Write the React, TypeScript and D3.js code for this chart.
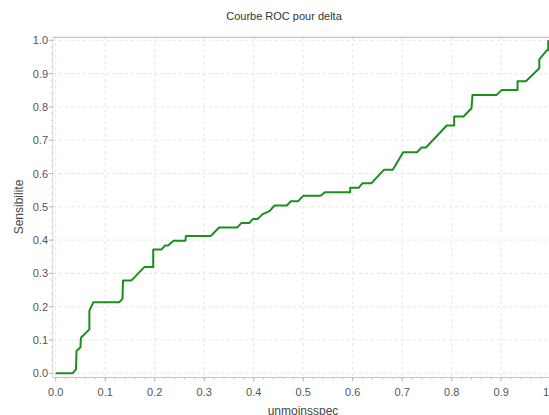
import * as d3 from 'd3'
import React from 'react'

// ROC curve points
const unmoinsspec = [
  0, 0.034, 0.041, 0.042, 0.05, 0.051, 0.068, 0.068, 0.076, 0.128, 0.135, 0.136,
  0.153, 0.179, 0.197, 0.197, 0.214, 0.221, 0.227, 0.238, 0.262, 0.263, 0.313,
  0.33, 0.367, 0.375, 0.391, 0.398, 0.408, 0.418, 0.432, 0.442, 0.467, 0.475,
  0.49, 0.5, 0.535, 0.544, 0.595, 0.595, 0.612, 0.62, 0.638, 0.663, 0.681, 0.702,
  0.73, 0.739, 0.748, 0.79, 0.805, 0.805, 0.824, 0.84, 0.842, 0.891, 0.901, 0.933,
  0.933, 0.95, 0.977, 0.977, 0.992, 0.995, 0.995,
]
const sensibilite = [
  0, 0, 0.012, 0.067, 0.078, 0.107, 0.132, 0.188, 0.213, 0.213, 0.224, 0.279,
  0.279, 0.319, 0.319, 0.372, 0.372, 0.384, 0.384, 0.398, 0.398, 0.412, 0.412,
  0.438, 0.438, 0.451, 0.451, 0.463, 0.463, 0.478, 0.487, 0.504, 0.504, 0.517,
  0.517, 0.533, 0.533, 0.544, 0.544, 0.557, 0.557, 0.571, 0.571, 0.611, 0.611,
  0.664, 0.664, 0.678, 0.678, 0.744, 0.744, 0.771, 0.771, 0.796, 0.836, 0.836,
  0.851, 0.851, 0.877, 0.877, 0.916, 0.943, 0.97, 0.97, 1.0,
]
const tickValues = [0, 0.1, 0.2, 0.3, 0.4, 0.5, 0.6, 0.7, 0.8, 0.9, 1.0]
const title = 'Courbe ROC pour delta'
const xLabel = 'unmoinsspec'
const yLabel = 'Sensibilite'

const W = 549
const H = 415

const App = () => {
  const x = d3.scaleLinear().domain([0, 1]).range([55.7, 550.7])
  const y = d3.scaleLinear().domain([0, 1]).range([373.3, 40.3])

  const left = x(-0.006)
  const right = x(1.006)
  const top = y(1.009)
  const bottom = y(-0.0125)

  const minor = d3.range(0, 51).map(i => i / 50)

  const line = d3.line<number>()
    .x((d, i) => x(unmoinsspec[i]))
    .y(d => y(d))

  const font = '"Liberation Sans", Arial, sans-serif'

  return (
    <svg width={W} height={H} style={{ position: 'absolute', left: 0, top: 0, background: '#fff' }}>
      {/* grid */}
      {tickValues.map(t => (
        <line key={'gx' + t} x1={x(t)} x2={x(t)} y1={top} y2={bottom}
          stroke="#e4e4e4" strokeDasharray="3,3" />
      ))}
      {tickValues.map(t => (
        <line key={'gy' + t} x1={left} x2={right} y1={y(t)} y2={y(t)}
          stroke="#e4e4e4" strokeDasharray="3,3" />
      ))}

      {/* frame */}
      <line x1={left} x2={right} y1={top} y2={top} stroke="#b4b4b4" />
      <line x1={left} x2={left} y1={top} y2={bottom} stroke="#d8d8d8" />
      <line x1={left} x2={right} y1={bottom} y2={bottom} stroke="#c4c4c4" />

      {/* left axis ticks */}
      {minor.map(t => (
        <line key={'ym' + t} x1={left - 2} x2={left} y1={y(t)} y2={y(t)} stroke="#d0d0d0" />
      ))}
      {tickValues.map(t => (
        <g key={'yt' + t}>
          <line x1={left - 4} x2={left} y1={y(t)} y2={y(t)} stroke="#b8b8b8" />
          <text x={48} y={y(t) + 4} textAnchor="end" fontFamily={font} fontSize={11} fill="#555">
            {d3.format('.1f')(t)}
          </text>
        </g>
      ))}

      {/* bottom axis ticks */}
      {minor.map(t => (
        <line key={'xm' + t} x1={x(t)} x2={x(t)} y1={bottom} y2={bottom + 2} stroke="#c4c4c4" />
      ))}
      {tickValues.map(t => (
        <g key={'xt' + t}>
          <line x1={x(t)} x2={x(t)} y1={bottom} y2={bottom + 4} stroke="#b8b8b8" />
          <text x={x(t)} y={396} textAnchor="middle" fontFamily={font} fontSize={11} fill="#555">
            {d3.format('.1f')(t)}
          </text>
        </g>
      ))}

      {/* ROC curve */}
      <path d={line(sensibilite) || ''} fill="none" stroke="#1a8f1a" strokeWidth={2}
        strokeLinejoin="round" />

      {/* labels */}
      <text x={284} y={20} textAnchor="middle" fontFamily={font} fontSize={11} fill="#333">{title}</text>
      <text x={303} y={415} textAnchor="middle" fontFamily={font} fontSize={12} fill="#444">{xLabel}</text>
      <text transform="translate(23,207) rotate(-90)" textAnchor="middle" fontFamily={font}
        fontSize={12} fill="#444">{yLabel}</text>
    </svg>
  )
}

export default App
